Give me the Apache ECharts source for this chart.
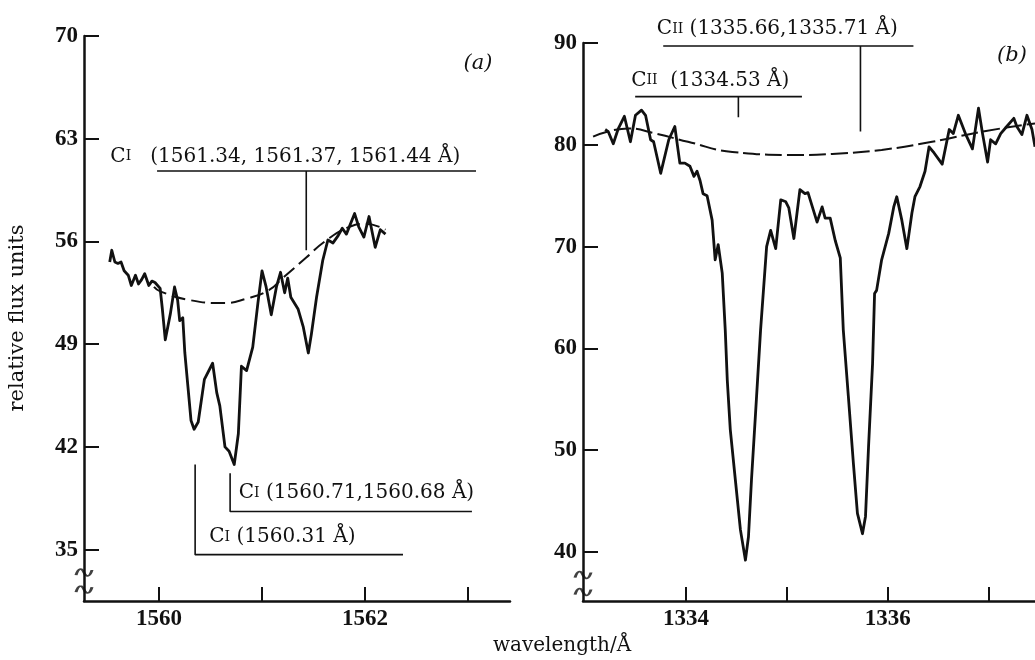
<!DOCTYPE html>
<html>
<head>
<meta charset="utf-8">
<script src="https://cdn.jsdelivr.net/npm/echarts@6/dist/echarts.min.js"></script>
<style>
html,body{margin:0;padding:0;background:#fff;}
#chart{width:1035px;height:660px;}
</style>
</head>
<body>
<div id="chart"></div>
<script>
// ---------- DATA ----------
// Panel (a): C I lines near 1561 Å
const spectrumA = [
 [1559.52,54.6],[1559.54,55.4],[1559.57,54.6],[1559.60,54.5],[1559.63,54.6],[1559.66,54.0],
 [1559.70,53.7],[1559.73,53.0],[1559.77,53.7],[1559.80,53.1],[1559.83,53.4],[1559.86,53.8],
 [1559.90,53.0],[1559.93,53.3],[1559.96,53.2],[1560.01,52.8],[1560.03,51.5],[1560.06,49.3],
 [1560.11,51.1],[1560.15,52.9],[1560.18,52.0],[1560.20,50.6],[1560.23,50.8],[1560.25,48.4],
 [1560.28,46.1],[1560.31,43.8],[1560.34,43.2],[1560.38,43.7],[1560.44,46.6],[1560.52,47.7],
 [1560.56,45.7],[1560.59,44.8],[1560.64,42.0],[1560.68,41.7],[1560.73,40.8],[1560.77,42.9],
 [1560.80,47.5],[1560.85,47.2],[1560.91,48.8],[1560.96,51.8],[1561.00,54.0],[1561.04,52.9],
 [1561.09,51.0],[1561.14,52.9],[1561.18,53.9],[1561.22,52.5],[1561.25,53.5],[1561.28,52.2],
 [1561.35,51.4],[1561.40,50.2],[1561.45,48.4],[1561.48,49.7],[1561.53,52.2],[1561.59,54.7],
 [1561.64,56.1],[1561.69,55.9],[1561.74,56.4],[1561.78,56.9],[1561.82,56.5],[1561.90,57.9],
 [1561.94,57.0],[1561.99,56.3],[1562.04,57.7],[1562.10,55.6],[1562.15,56.8],[1562.20,56.5]
];
const continuumA = [
 [1559.95,52.9],[1560.01,52.6],[1560.30,52.0],[1560.62,51.8],[1560.85,52.1],[1561.07,52.7],
 [1561.20,53.5],[1561.43,54.9],[1561.61,56.0],[1561.85,57.0],[1562.00,57.2],[1562.20,56.8]
];
// Panel (b): C II lines near 1335 Å
const spectrumB = [
 [1333.20,81.5],[1333.23,81.3],[1333.28,80.1],[1333.33,81.6],[1333.39,82.8],[1333.45,80.3],
 [1333.50,82.9],[1333.56,83.4],[1333.60,82.9],[1333.65,80.5],[1333.68,80.3],[1333.75,77.2],
 [1333.83,80.5],[1333.89,81.8],[1333.94,78.2],[1333.99,78.2],[1334.04,77.9],[1334.08,76.9],
 [1334.11,77.4],[1334.14,76.5],[1334.17,75.2],[1334.21,75.0],[1334.26,72.6],[1334.29,68.7],
 [1334.32,70.2],[1334.36,67.4],[1334.39,61.8],[1334.41,56.9],[1334.44,52.0],[1334.49,47.1],
 [1334.54,42.2],[1334.59,39.2],[1334.62,41.5],[1334.65,47.1],[1334.69,53.6],[1334.74,61.8],
 [1334.80,70.0],[1334.84,71.6],[1334.89,69.8],[1334.94,74.6],[1334.99,74.4],[1335.02,73.8],
 [1335.07,70.8],[1335.13,75.6],[1335.18,75.2],[1335.21,75.3],[1335.30,72.4],[1335.35,73.9],
 [1335.38,72.8],[1335.43,72.8],[1335.48,70.6],[1335.53,68.9],[1335.56,61.8],[1335.61,55.3],
 [1335.66,48.7],[1335.70,43.8],[1335.75,41.8],[1335.78,43.5],[1335.81,50.3],[1335.85,58.5],
 [1335.87,65.4],[1335.89,65.7],[1335.94,68.7],[1336.01,71.3],[1336.06,73.9],[1336.09,74.9],
 [1336.14,72.6],[1336.19,69.8],[1336.24,73.3],[1336.27,74.9],[1336.32,75.9],[1336.37,77.4],
 [1336.41,79.8],[1336.46,79.2],[1336.54,78.1],[1336.61,81.5],[1336.65,81.1],[1336.70,82.9],
 [1336.77,81.1],[1336.84,79.6],[1336.90,83.6],[1336.94,81.1],[1336.99,78.3],[1337.02,80.5],
 [1337.07,80.1],[1337.12,81.1],[1337.18,81.8],[1337.25,82.6],[1337.28,81.8],[1337.33,81.0],
 [1337.38,82.9],[1337.43,81.5],[1337.46,79.8]
];
const continuumB = [
 [1333.08,80.8],[1333.43,81.6],[1333.70,81.1],[1334.02,80.3],[1334.46,79.3],[1335.11,79.0],
 [1335.45,79.1],[1335.94,79.5],[1336.44,80.3],[1336.94,81.3],[1337.46,82.1]
];
// Line identification brackets
const bracketA1 = [[1559.98,60.8],[1561.43,60.8],[1561.43,55.4],[1561.43,60.8],[1563.08,60.8]];
const bracketA2 = [[1560.69,40.2],[1560.69,37.6],[1563.04,37.6]];
const bracketA3 = [[1560.35,40.8],[1560.35,34.66],[1562.37,34.66]];
const bracketB1 = [[1333.775,89.7],[1335.73,89.7],[1335.73,81.3],[1335.73,89.7],[1336.255,89.7]];
const bracketB2 = [[1333.497,84.73],[1334.52,84.73],[1334.52,82.7],[1334.52,84.73],[1335.15,84.73]];
// Label texts and anchor points
const labelsA = [
 {pos:[1559.526,61.77], ion:'I', text:'   (1561.34, 1561.37, 1561.44 Å)'},
 {pos:[1560.774,38.86], ion:'I', text:' (1560.71,1560.68 Å)'},
 {pos:[1560.487,35.85], ion:'I', text:' (1560.31 Å)'}
];
const labelsB = [
 {pos:[1333.712,91.36], ion:'II', text:' (1335.66,1335.71 Å)'},
 {pos:[1333.457,86.30], ion:'II', text:'  (1334.53 Å)'}
];
// Axis ticks
const ticksAx = [1560,1561,1562,1563];
const labelsAx = [1560,1562];
const ticksAy = [35,42,49,56,63,70];
const ticksBx = [1334,1335,1336,1337];
const labelsBx = [1334,1336];
const ticksBy = [40,50,60,70,80,90];
const breakA = [[1559.27,33.44],[1559.27,32.28]];
const breakB = [[1332.98,37.74],[1332.98,36.07]];

// ---------- CHART ----------
const SERIF = '"DejaVu Serif", serif';
const TICKFONT = '"Liberation Serif", serif';
const INK = '#111111';

function xAxisCfg(idx, min, max, ticks, labs){
  return {
    type:'value', gridIndex:idx, min:min, max:max,
    axisLine:{show:true, onZero:false, lineStyle:{color:INK, width:2.5}},
    axisTick:{show:true, inside:true, length:14, customValues:ticks, lineStyle:{color:INK, width:2}},
    axisLabel:{show:true, customValues:labs, margin:7, color:INK, fontFamily:TICKFONT, fontWeight:'bold', fontSize:23,
      formatter: v => String(v)},
    splitLine:{show:false}
  };
}
function yAxisCfg(idx, min, max, ticks){
  return {
    type:'value', gridIndex:idx, min:min, max:max,
    axisLine:{show:true, onZero:false, lineStyle:{color:INK, width:2.5}},
    axisTick:{show:true, inside:true, length:15, customValues:ticks, lineStyle:{color:INK, width:2}},
    axisLabel:{show:true, customValues:ticks, margin:6, color:INK, fontFamily:TICKFONT, fontWeight:'bold', fontSize:23,
      formatter: v => String(v)},
    splitLine:{show:false}
  };
}
function lineSeries(xi, data, opts){
  return Object.assign({
    type:'line', xAxisIndex:xi, yAxisIndex:xi, data:data, symbol:'none',
    clip:false, silent:true, animation:false,
    lineStyle:{color:INK, width:1.6}
  }, opts||{});
}
function breakSeries(xi, data){
  return {
    type:'scatter', xAxisIndex:xi, yAxisIndex:xi, clip:false, silent:true, animation:false,
    data:data,
    symbol:'path://M0,6 C3,0 7,0 10,4 C13,8 17,8 20,2',
    symbolSize:[16,7],
    itemStyle:{color:'rgba(0,0,0,0)', borderColor:INK, borderWidth:2}
  };
}

const chart = echarts.init(document.getElementById('chart'), null, {renderer:'canvas'});
chart.setOption({
  backgroundColor:'#ffffff',
  animation:false,
  grid:[
    {left:84, top:36, width:426, height:565},
    {left:583, top:43, width:452, height:558}
  ],
  xAxis:[
    xAxisCfg(0, 1559.27, 1563.41, ticksAx, labelsAx),
    xAxisCfg(1, 1332.98, 1337.46, ticksBx, labelsBx)
  ],
  yAxis:[
    yAxisCfg(0, 31.5, 70, ticksAy),
    yAxisCfg(1, 35.19, 90, ticksBy)
  ],
  series:[
    lineSeries(0, spectrumA, {lineStyle:{color:INK, width:2.8, join:'round'}}),
    lineSeries(0, continuumA, {smooth:true, lineStyle:{color:INK, width:2, type:[14,6]}}),
    lineSeries(0, bracketA1),
    lineSeries(0, bracketA2),
    lineSeries(0, bracketA3),
    breakSeries(0, breakA),
    lineSeries(1, spectrumB, {lineStyle:{color:INK, width:2.8, join:'round'}}),
    lineSeries(1, continuumB, {smooth:true, lineStyle:{color:INK, width:2, type:[17,5]}}),
    lineSeries(1, bracketB1),
    lineSeries(1, bracketB2),
    breakSeries(1, breakB)
  ]
});

// Annotation texts placed through the axes' own scales
const rich = {
  c:{fill:INK, font:'20px "DejaVu Serif", serif', lineHeight:24},
  s:{fill:INK, font:'14px "DejaVu Serif", serif', lineHeight:20, verticalAlign:'bottom', padding:[0,0,5,0]},
  t:{fill:INK, font:'20px "DejaVu Serif", serif', lineHeight:24}
};
function annot(gridIndex, l){
  const p = chart.convertToPixel({gridIndex:gridIndex}, l.pos);
  return {type:'text', x:p[0], y:p[1], silent:true,
    style:{text:'{c|C}{s|'+l.ion+'}{t|'+l.text+'}', rich:rich, fill:INK,
      font:'20px "DejaVu Serif", serif', align:'left', verticalAlign:'middle'}};
}
const graphics = [
  {type:'text', x:18, y:318, rotation:Math.PI/2,
   style:{text:'relative flux units', font:'21px "DejaVu Serif", serif', fill:INK, align:'center', verticalAlign:'middle'}},
  {type:'text', x:562, y:646,
   style:{text:'wavelength/Å', font:'20px "DejaVu Serif", serif', fill:INK, align:'center', verticalAlign:'middle'}},
  {type:'text', x:478, y:64,
   style:{text:'(a)', font:'italic 21px "DejaVu Serif", serif', fill:INK, align:'center', verticalAlign:'middle'}},
  {type:'text', x:1012, y:56,
   style:{text:'(b)', font:'italic 21px "DejaVu Serif", serif', fill:INK, align:'center', verticalAlign:'middle'}}
].concat(labelsA.map(l => annot(0, l)), labelsB.map(l => annot(1, l)));
chart.setOption({graphic: graphics});
</script>
</body>
</html>
